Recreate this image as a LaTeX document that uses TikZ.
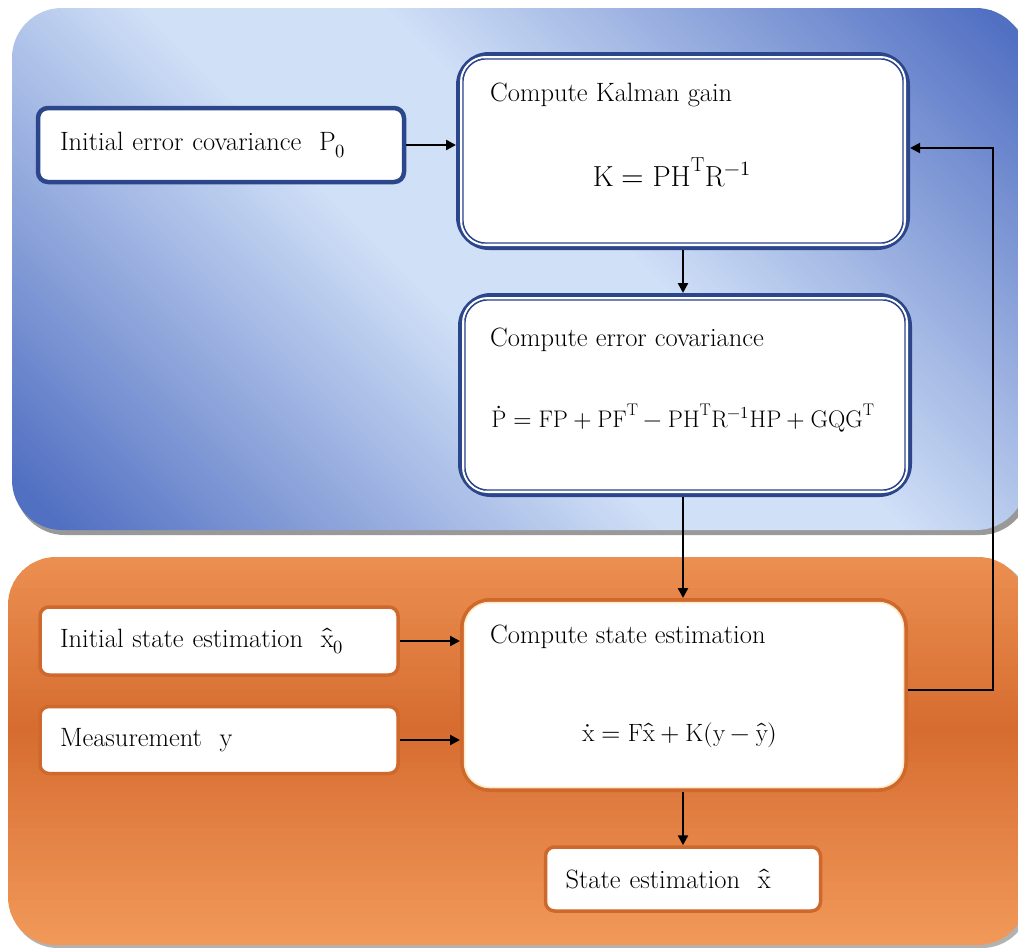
\documentclass[tikz,border=0pt]{standalone}
\usepackage{unicode-math}
\usetikzlibrary{arrows.meta,calc}
\definecolor{bdark}{RGB}{44,70,140}
\definecolor{bplight}{RGB}{208,224,247}
\definecolor{bpdark}{RGB}{82,112,194}
\definecolor{oplight}{RGB}{244,158,94}
\definecolor{opdark}{RGB}{214,108,48}
\definecolor{oring}{RGB}{206,104,44}
\definecolor{ocream}{RGB}{255,232,196}
\tikzset{
  txt/.style={inner sep=0pt, anchor=west, font=\fontsize{26.5}{32}\selectfont},
  ftxt/.style={inner sep=0pt, font=\fontsize{25}{30}\selectfont},
  inblue/.style={draw=bdark, line width=4.5pt, fill=white, rounded corners=10pt,
     inner xsep=22pt, inner ysep=0pt, align=left, font=\fontsize{26.5}{32}\selectfont},
  inorange/.style={draw=oring, line width=3.5pt, fill=white, rounded corners=9pt,
     inner xsep=20pt, inner ysep=0pt, align=left, font=\fontsize{26.5}{32}\selectfont},
  calcblue/.style={draw=bdark, line width=6pt, fill=white, rounded corners=30pt, inner sep=0pt},
  calcorange/.style={draw=oring, line width=4pt, fill=white, rounded corners=28pt, inner sep=0pt},
  arr/.style={draw=black, line width=2.4pt, -{Triangle[length=10pt,width=10pt]}},
  fbarr/.style={draw=black, line width=2pt, -{Triangle[length=10pt,width=10pt]}},
}
\begin{document}
\begin{tikzpicture}[x=1pt,y=-1pt]
\useasboundingbox (0,0) rectangle (1018,948);
\clip (0,0) rectangle (1018,948);
\fill[white] (0,0) rectangle (1018,948);
% blue panel with diagonal gradient
\fill[black!40, rounded corners=50pt] (15,12) rectangle (1030,535);
\begin{scope}
  \clip[rounded corners=50pt] (12,8) rectangle (1026,530);
  \foreach \c in {-540,-530,...,1030}{
    \pgfmathsetmacro{\p}{min(100,max(0,(abs(\c-250)-120)/6))}
    \fill[bpdark!\p!bplight] (\c,0) -- (\c+11,0) -- (\c+11+948,948) -- (\c+948,948) -- cycle;
  }
\end{scope}
% orange panel with vertical gradient
\fill[black!30, rounded corners=48pt] (10,560) rectangle (1030,948);
\begin{scope}
  \clip[rounded corners=48pt] (8,557) rectangle (1026,945);
  \foreach \yy in {552,558,...,948}{
    \pgfmathsetmacro{\p}{100*max(0,1-abs(\yy-725)/240)}
    \fill[opdark!\p!oplight] (0,\yy) rectangle (1030,\yy+7);
  }
\end{scope}

% blue part
\node[inblue, text width=322pt, minimum height=74pt] (p0) at (221,145)
  {Initial error covariance\ \ $\mathrm{P}_0$};
\node[calcblue, minimum width=448pt, minimum height=192pt] (kal) at (683,151) {};
\draw[white, line width=2pt, rounded corners=25pt] ($(kal.north west)+(5,5)$) rectangle ($(kal.south east)+(-5,-5)$);
\draw[bdark, line width=1.2pt, rounded corners=23pt] ($(kal.north west)+(7,7)$) rectangle ($(kal.south east)+(-7,-7)$);
\node[txt] (kalt) at (490,95) {Compute Kalman gain};
\node[ftxt, font=\fontsize{29}{32}\selectfont] (kalf) at (672,172) {$\mathrm{K}=\mathrm{PH}^{\mathrm{T}}\mathrm{R}^{-1}$};

\node[calcblue, minimum width=448pt, minimum height=198pt] (err) at (685,395) {};
\draw[white, line width=2pt, rounded corners=25pt] ($(err.north west)+(5,5)$) rectangle ($(err.south east)+(-5,-5)$);
\draw[bdark, line width=1.2pt, rounded corners=23pt] ($(err.north west)+(7,7)$) rectangle ($(err.south east)+(-7,-7)$);
\node[txt] (errt) at (490,340) {Compute error covariance};
\node[ftxt, font=\fontsize{24}{30}\selectfont] (errf) at (683,418)
  {$\dot{\mathrm{P}}=\mathrm{FP}+\mathrm{PF}^{\mathrm{T}}-\mathrm{PH}^{\mathrm{T}}\mathrm{R}^{-1}\mathrm{HP}+\mathrm{GQG}^{\mathrm{T}}$};

% orange part
\node[inorange, text width=318pt, minimum height=68pt] (init) at (219,641)
  {Initial state estimation\ \ $\hat{\mathrm{x}}_0$};
\node[inorange, text width=318pt, minimum height=67pt] (meas) at (219,740)
  {Measurement\ \ $\mathrm{y}$};
\node[calcorange, minimum width=444pt, minimum height=190pt] (st) at (684,695) {};
\draw[ocream, line width=1.5pt, rounded corners=25pt] ($(st.north west)+(4.5,4.5)$) rectangle ($(st.south east)+(-4.5,-4.5)$);
\node[txt] (stt) at (490,637) {Compute state estimation};
\node[ftxt] (stf) at (680,735)
  {$\dot{\mathrm{x}}=\mathrm{F}\hat{\mathrm{x}}+\mathrm{K}(\mathrm{y}-\hat{\mathrm{y}})$};
\node[inorange, text width=235pt, minimum height=64pt] (est) at (683,879)
  {State estimation\ \ $\hat{\mathrm{x}}$};

% connectors
\draw[arr] (p0.east) -- (p0.east -| kal.west);
\draw[arr] (kal.south) -- (err.north -| kal.south);
\draw[arr] (err.south -| kal.south) -- (st.north -| kal.south);
\draw[arr] (init.east) -- (init.east -| st.west);
\draw[arr] (meas.east) -- (meas.east -| st.west);
\draw[arr] (st.south -| kal.south) -- (est.north -| kal.south);
\coordinate (fbb) at (993,690);
\coordinate (fbt) at (993,148);
\draw[fbarr] (st.east |- fbb) -- (fbb) -- (fbt) -- (fbt -| kal.east);
\end{tikzpicture}
\end{document}
